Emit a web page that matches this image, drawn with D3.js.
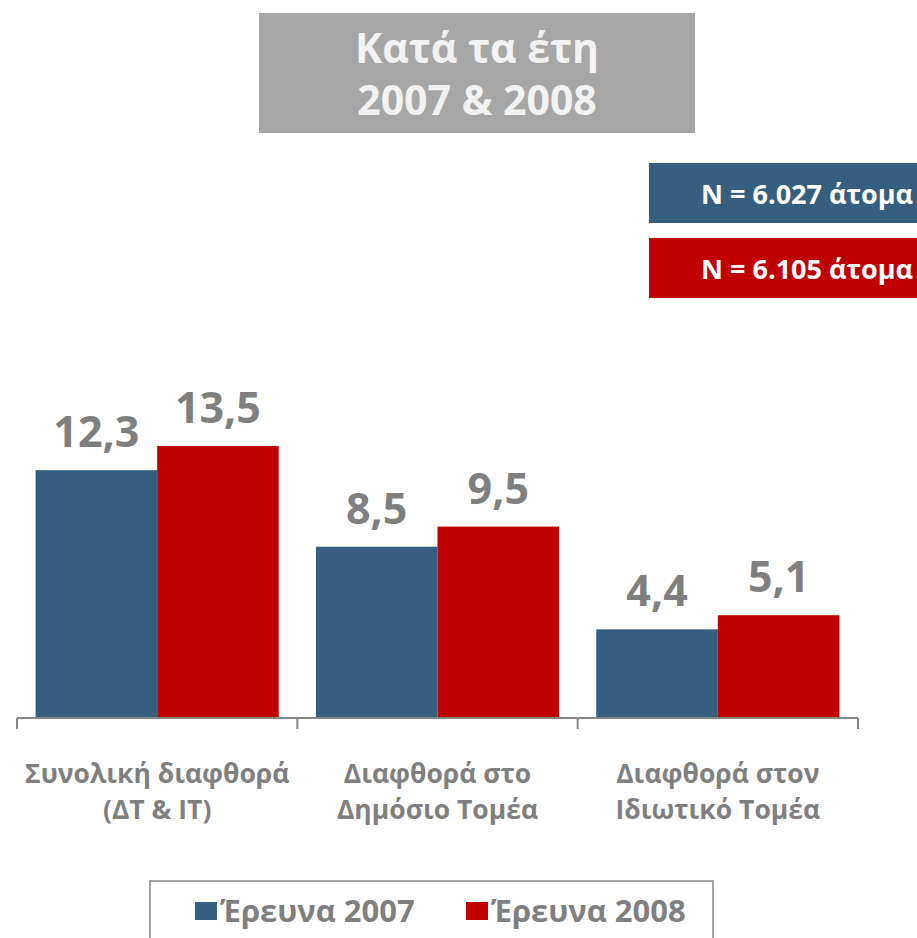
<!DOCTYPE html>
<html>
<head>
<meta charset="utf-8">
<script src="https://cdn.jsdelivr.net/npm/d3@7"></script>
<style>
  body { margin: 0; background: #fff; }
  svg { font-family: "Open Sans", "Noto Sans", sans-serif; font-weight: bold; }
</style>
</head>
<body>
<svg width="917" height="938"></svg>
<script>
// Chart data
var categories = [["Συνολική διαφθορά", "(ΔΤ & ΙΤ)"], ["Διαφθορά στο", "Δημόσιο Τομέα"], ["Διαφθορά στον", "Ιδιωτικό Τομέα"]];
var series = ["Έρευνα 2007", "Έρευνα 2008"];
var values2007 = [12.3, 8.5, 4.4];
var values2008 = [13.5, 9.5, 5.1];
var sampleNotes = ["N = 6.027 άτομα", "N = 6.105 άτομα"];
var colors = ["#365e7e", "#c00000"];

var svg = d3.select("svg");
var grey = "#7f7f7f";

// Title box
svg.append("rect").attr("x", 259).attr("y", 13).attr("width", 436).attr("height", 120).attr("fill", "#a6a6a6");
svg.append("text").attr("x", 477).attr("y", 63).attr("text-anchor", "middle")
   .attr("fill", "#f2f2f2").attr("font-size", 41).text("Κατά τα έτη");
svg.append("text").attr("x", 477).attr("y", 115).attr("text-anchor", "middle")
   .attr("fill", "#f2f2f2").attr("font-size", 41).text("2007 & 2008");

// N boxes
sampleNotes.forEach(function(t, i) {
    var y0 = 163 + i * 75;
    svg.append("rect").attr("x", 649).attr("y", y0).attr("width", 270).attr("height", 60).attr("fill", colors[i]);
    svg.append("text").attr("x", 913).attr("y", y0 + 41).attr("text-anchor", "end")
       .attr("fill", "#fff").attr("font-size", 27).text(t);
});

// Scales
var x0 = d3.scaleBand().domain(d3.range(categories.length)).range([17, 858]).paddingInner(0).paddingOuter(0);
var x1 = d3.scaleBand().domain(series).range([0, x0.bandwidth()]).paddingOuter(0.153).paddingInner(0);
var y = d3.scaleLinear().domain([0, 16]).range([718, 718 - 16 * 20.15]);

var rows = categories.map(function(c, i) {
    return [{ s: series[0], v: values2007[i], c: colors[0] }, { s: series[1], v: values2008[i], c: colors[1] }];
});

var groups = svg.append("g").selectAll("g").data(rows).enter().append("g")
    .attr("transform", function(d, i) { return "translate(" + x0(i) + ",0)"; });

groups.selectAll("rect").data(function(d) { return d; }).enter().append("rect")
    .attr("x", function(d) { return x1(d.s); })
    .attr("y", function(d) { return y(d.v); })
    .attr("width", x1.bandwidth())
    .attr("height", function(d) { return y(0) - y(d.v); })
    .attr("fill", function(d) { return d.c; });

groups.selectAll("text").data(function(d) { return d; }).enter().append("text")
    .attr("x", function(d) { return x1(d.s) + x1.bandwidth() / 2; })
    .attr("y", function(d) { return y(d.v) - 23; })
    .attr("text-anchor", "middle").attr("fill", grey).attr("font-size", 43)
    .text(function(d) { return d3.format(".1f")(d.v).replace(".", ","); });

// Axis
var axis = svg.append("g").attr("transform", "translate(0,718)");
axis.append("line").attr("x1", 17).attr("x2", 858).attr("stroke", "#868686").attr("stroke-width", 2);
axis.selectAll("line.tick").data(d3.range(categories.length + 1)).enter().append("line")
    .attr("class", "tick")
    .attr("x1", function(d) { return 17 + d * x0.bandwidth(); })
    .attr("x2", function(d) { return 17 + d * x0.bandwidth(); })
    .attr("y1", 0).attr("y2", 11).attr("stroke", "#868686").attr("stroke-width", 2);

categories.forEach(function(lines, i) {
    lines.forEach(function(l, j) {
        svg.append("text").attr("x", x0(i) + x0.bandwidth() / 2).attr("y", 783 + j * 36)
           .attr("text-anchor", "middle").attr("fill", grey).attr("font-size", 26.5).text(l);
    });
});

// Legend
svg.append("rect").attr("x", 150).attr("y", 881).attr("width", 563).attr("height", 70)
   .attr("fill", "none").attr("stroke", "#868686").attr("stroke-width", 1.5);
var legendX = [195, 466];
series.forEach(function(s, i) {
    svg.append("rect").attr("x", legendX[i]).attr("y", 902).attr("width", 22).attr("height", 18).attr("fill", colors[i]);
    svg.append("text").attr("x", legendX[i] + 25).attr("y", 922).attr("fill", grey)
       .attr("font-size", 31).text(s);
});
</script>
</body>
</html>
